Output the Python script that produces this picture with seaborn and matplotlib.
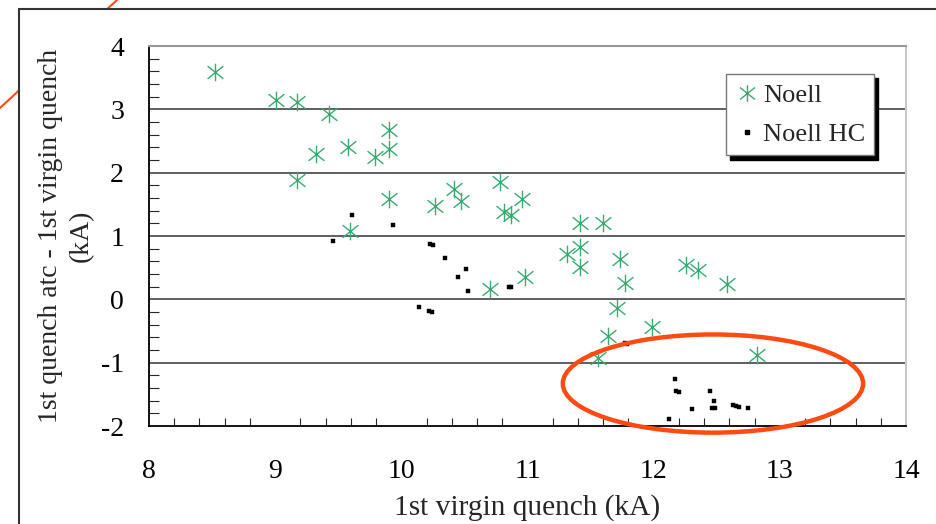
import numpy as np
import pandas as pd
import matplotlib
matplotlib.use("Agg")
import matplotlib.pyplot as plt
from matplotlib.path import Path
from matplotlib.lines import Line2D
from matplotlib.patches import Ellipse, Rectangle
import seaborn as sns

# ---- data ----
noell_x = [8.52, 9.01, 9.17, 9.43, 9.32, 9.17, 9.58, 9.79, 9.90, 9.90, 9.90, 9.59,
           10.27, 10.42, 10.47, 10.78, 10.81, 10.87, 10.96, 10.70, 10.98,
           11.42, 11.60, 11.31, 11.42, 11.42, 11.73, 11.77, 11.71, 11.99, 11.64,
           11.56, 12.26, 12.35, 12.58, 12.82]
noell_y = [3.59, 3.14, 3.11, 2.93, 2.29, 1.88, 2.41, 2.24, 2.38, 2.68, 1.59, 1.08,
           1.47, 1.74, 1.55, 1.85, 1.38, 1.33, 1.59, 0.16, 0.35,
           1.21, 1.21, 0.72, 0.82, 0.51, 0.64, 0.26, -0.14, -0.44, -0.58,
           -0.93, 0.54, 0.46, 0.24, -0.88]

hc_x = [9.61, 9.46, 9.93, 10.23, 10.25, 10.35, 10.51, 10.45, 10.53, 10.85, 10.87,
        10.14, 10.22, 10.24, 11.77, 11.79, 12.17, 12.18, 12.20, 12.12, 12.30, 12.45,
        12.48, 12.46, 12.49, 12.63, 12.65, 12.68, 12.75]
hc_y = [1.33, 0.92, 1.17, 0.87, 0.86, 0.65, 0.48, 0.35, 0.13, 0.19, 0.20,
        -0.12, -0.19, -0.20, -0.69, -0.70, -1.26, -1.45, -1.46, -1.89, -1.73, -1.45,
        -1.61, -1.72, -1.72, -1.67, -1.68, -1.70, -1.72]

series_names = ["Noell", "Noell HC"]
x_ticks = [8, 9, 10, 11, 12, 13, 14]
y_ticks = [-2, -1, 0, 1, 2, 3, 4]
x_label = "1st virgin quench (kA)"
y_label = "1st quench atc - 1st virgin quench\n(kA)"

df_n = pd.DataFrame({"x": noell_x, "y": noell_y})
df_h = pd.DataFrame({"x": hc_x, "y": hc_y})

sns.set_theme(style="white")
plt.rcParams["font.family"] = ["Liberation Serif", "DejaVu Serif"]

GREEN = "#3aaa72"
ORANGE = "#ff4a12"

fig = plt.figure(figsize=(9.36, 5.24), dpi=100)
fig.patch.set_facecolor("white")

# decorative orange line at top-left (behind frame)
fig.add_artist(Line2D([0, 117 / 936], [1 - 108 / 524, 1.0], color=ORANGE,
                      lw=1.5, transform=fig.transFigure, zorder=0))
# white frame
fig.add_artist(Rectangle((19 / 936, -0.01), 1.0, 1 - 9 / 524 + 0.01,
                         transform=fig.transFigure, facecolor="white",
                         edgecolor="#333333", lw=1.5, zorder=1))

ax = fig.add_axes([149 / 936, (524 - 426) / 524, (906 - 149) / 936, (426 - 46) / 524])
ax.set_zorder(2)
ax.set_facecolor("none")

# asterisk marker: X plus vertical bar
star = Path([(0, -1), (0, 1), (-0.9, -0.72), (0.9, 0.72), (-0.9, 0.72), (0.9, -0.72)],
            [Path.MOVETO, Path.LINETO, Path.MOVETO, Path.LINETO, Path.MOVETO, Path.LINETO])

sns.scatterplot(data=df_n, x="x", y="y", ax=ax, marker=star, s=160,
                color=GREEN, edgecolor=GREEN, linewidth=1.0, zorder=4, legend=False)
sns.scatterplot(data=df_h, x="x", y="y", ax=ax, marker="s", s=9,
                color="black", edgecolor="black", linewidth=0.3, zorder=5, legend=False)

ax.set_xlim(8, 14)
ax.set_ylim(-2, 4)
ax.set_xticks(x_ticks)
ax.set_yticks(y_ticks)
ax.set_xticks(np.arange(8, 14.01, 0.2), minor=True)
ax.set_yticks(np.arange(-2, 4.01, 0.2), minor=True)
ax.set_xticklabels([str(t) for t in x_ticks])
ax.set_yticklabels([str(t) for t in y_ticks])

ax.tick_params(axis="both", which="major", direction="in", labelsize=20,
               colors="black", width=1.2)
ax.tick_params(axis="x", which="major", length=9, pad=24)
ax.tick_params(axis="y", which="major", length=12, pad=18)
ax.tick_params(axis="x", which="minor", direction="in", length=6, width=0.8,
               bottom=True)
ax.tick_params(axis="y", which="minor", direction="in", length=7, width=0.8,
               left=True)

for yv in y_ticks[1:-1]:
    ax.axhline(yv, color="#444444", lw=1.2, zorder=1)

ax.spines["left"].set_color("black")
ax.spines["bottom"].set_color("black")
ax.spines["left"].set_linewidth(1.3)
ax.spines["bottom"].set_linewidth(1.3)
ax.spines["top"].set_color("#999999")
ax.spines["right"].set_color("#c8c8c8")
ax.spines["top"].set_linewidth(1.5)
ax.spines["right"].set_linewidth(1.5)

ax.set_xlabel(x_label, fontsize=21.2, labelpad=7)
ax.set_ylabel(y_label, fontsize=20, labelpad=5, linespacing=1.3)

# highlight ellipse
ax.add_patch(Ellipse((12.47, -1.33), 2.38, 1.55, fill=False, edgecolor=ORANGE,
                     lw=3.2, clip_on=False, zorder=6))

handles = [Line2D([], [], marker=star, ls="none", color=GREEN, markersize=12,
                  markeredgewidth=1.0),
           Line2D([], [], marker="s", ls="none", color="black", markersize=3)]
leg = ax.legend(handles, series_names, loc="upper left", bbox_to_anchor=(0.762, 0.926),
                fontsize=19, frameon=True, fancybox=False,
                shadow={"color": "black", "alpha": 1.0, "ox": 3, "oy": -3},
                edgecolor="#777777", borderpad=0.35, handletextpad=0.15,
                handlelength=0.9, labelspacing=0.6, borderaxespad=0)
leg.get_frame().set_linewidth(1.0)
leg.set_zorder(7)

fig.savefig("out.png", dpi=100, facecolor="white")
